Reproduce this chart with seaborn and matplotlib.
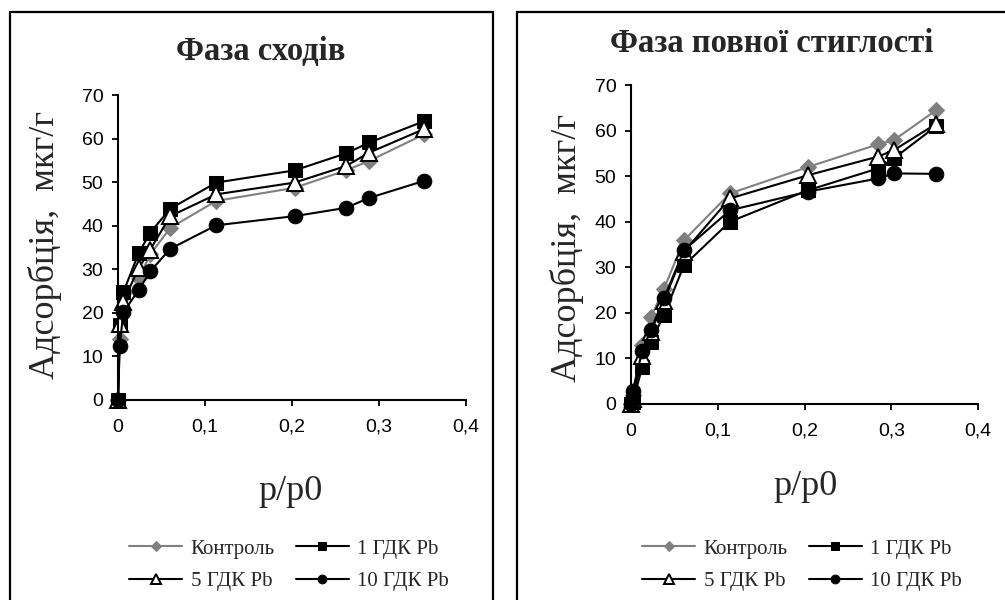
import matplotlib
matplotlib.use("Agg")
import matplotlib.pyplot as plt
from matplotlib.patches import Rectangle
from matplotlib.ticker import FuncFormatter
import seaborn as sns
import pandas as pd

# ---- data ----
x_left = [0, 0.002, 0.006, 0.024, 0.037, 0.060, 0.113, 0.203, 0.262, 0.289, 0.352]
left_control = [0, 14.0, 21.0, 28.0, 33.4, 39.5, 45.7, 48.7, 52.7, 54.9, 61.0]
left_pb1 = [0, 17.3, 24.7, 33.8, 38.4, 43.9, 49.9, 52.7, 56.6, 59.1, 64.0]
left_pb5 = [0, 17.4, 22.6, 30.3, 34.5, 42.2, 47.2, 49.9, 53.7, 56.8, 62.2]
left_pb10 = [0, 12.3, 20.1, 25.3, 29.5, 34.7, 40.1, 42.2, 44.1, 46.4, 50.3]

x_right = [0, 0.002, 0.013, 0.023, 0.038, 0.061, 0.114, 0.204, 0.285, 0.303, 0.352]
right_control = [0, 2.0, 13.0, 19.1, 25.3, 35.9, 46.2, 52.0, 57.0, 57.9, 64.5]
right_pb1 = [0, 0.5, 8.1, 13.6, 19.6, 30.4, 40.0, 46.9, 51.7, 53.9, 61.0]
right_pb5 = [0, 1.0, 10.6, 15.8, 22.7, 33.4, 45.1, 50.2, 54.3, 55.7, 61.5]
right_pb10 = [0, 2.9, 11.7, 16.3, 23.2, 33.7, 42.5, 46.6, 49.5, 50.6, 50.5]

series_names = ["Контроль", "1 ГДК Pb", "5 ГДК Pb", "10 ГДК Pb"]
titles = ["Фаза сходів", "Фаза повної стиглості"]
ylabel = "Адсорбція,  мкг/г"
xlabel = "p/p0"
xticks = [0, 0.1, 0.2, 0.3, 0.4]
yticks = [0, 10, 20, 30, 40, 50, 60, 70]

sns.set_style("ticks")
plt.rcParams["font.family"] = ["Liberation Sans", "DejaVu Sans"]

styles = {
    "Контроль": dict(color="#808080", marker="D", markersize=8, markerfacecolor="#808080", markeredgecolor="#808080"),
    "1 ГДК Pb": dict(color="black", marker="s", markersize=10, markerfacecolor="black", markeredgecolor="black"),
    "5 ГДК Pb": dict(color="black", marker="^", markersize=11.5, markerfacecolor="white", markeredgecolor="black", markeredgewidth=1.4),
    "10 ГДК Pb": dict(color="black", marker="o", markersize=10.5, markerfacecolor="black", markeredgecolor="black"),
}

W, H = 1005, 600
fig = plt.figure(figsize=(W / 100, H / 100), dpi=100)
fig.patch.set_facecolor("white")

def fx(px):
    return px / W

def fy(py):
    return 1 - py / H

ax_l = fig.add_axes([fx(118), fy(400), 348 / W, 305 / H])
ax_r = fig.add_axes([fx(631), fy(404), 347 / W, 319 / H])

panels = [
    dict(ax=ax_l, xs=x_left, ys=[left_control, left_pb1, left_pb5, left_pb10],
         title_pos=(261, 60), ylab_pos=(45, 245), xlab_pos=(290, 500), leg_pos=(289, 565)),
    dict(ax=ax_r, xs=x_right, ys=[right_control, right_pb1, right_pb5, right_pb10],
         title_pos=(772, 52), ylab_pos=(567, 248), xlab_pos=(805, 495), leg_pos=(802, 565)),
]

fmt = FuncFormatter(lambda v, p: ("%g" % round(v, 2)).replace(".", ","))

for i, pnl in enumerate(panels):
    ax = pnl["ax"]
    for name, yv in zip(series_names, pnl["ys"]):
        df = pd.DataFrame({"x": pnl["xs"], "y": yv})
        sns.lineplot(data=df, x="x", y="y", ax=ax, sort=False, estimator=None,
                     linewidth=1.5, label=name, clip_on=False, **styles[name])
    ax.set_xlim(0, 0.4)
    ax.set_ylim(0, 70)
    ax.set_xticks(xticks)
    ax.set_yticks(yticks)
    ax.xaxis.set_major_formatter(fmt)
    ax.tick_params(axis="both", direction="out", length=4.5, width=1.3, labelsize=14, colors="black")
    ax.tick_params(axis="x", pad=9)
    ax.tick_params(axis="y", pad=6)
    for s in ["top", "right"]:
        ax.spines[s].set_visible(False)
    for s in ["left", "bottom"]:
        ax.spines[s].set_linewidth(1.5)
        ax.spines[s].set_color("black")
    ax.set_facecolor("white")
    ax.set_xlabel("")
    ax.set_ylabel("")
    tx, ty = pnl["title_pos"]
    fig.text(fx(tx), fy(ty), titles[i], ha="center", va="baseline", fontsize=23.5,
             family="Liberation Serif", fontweight="bold")
    lx, ly = pnl["ylab_pos"]
    fig.text(fx(lx), fy(ly), ylabel, ha="center", va="center", rotation=90, fontsize=26,
             family="Liberation Serif")
    xx, xy = pnl["xlab_pos"]
    fig.text(fx(xx), fy(xy), xlabel, ha="center", va="baseline", fontsize=26,
             family="Liberation Serif")
    h, l = ax.get_legend_handles_labels()
    ax.get_legend().remove()
    order = [0, 2, 1, 3]
    gx, gy = pnl["leg_pos"]
    ax.legend([h[k] for k in order], [l[k] for k in order], ncol=2, frameon=False,
              loc="center", bbox_to_anchor=(fx(gx), fy(gy)), bbox_transform=fig.transFigure,
              markerscale=0.6, prop={"family": "Liberation Serif", "size": 15},
              handlelength=2.55, columnspacing=1.0, handletextpad=0.4, labelspacing=0.6,
              borderpad=0, borderaxespad=0)

# panel borders
fig.add_artist(Rectangle((fx(10), -0.02), fx(493) - fx(10), fy(12) + 0.02, transform=fig.transFigure,
                         fill=False, edgecolor="black", linewidth=1.6))
fig.add_artist(Rectangle((fx(517), -0.02), 0.6, fy(12) + 0.02, transform=fig.transFigure,
                         fill=False, edgecolor="black", linewidth=1.6))

fig.savefig("out.png", dpi=100, facecolor="white")
